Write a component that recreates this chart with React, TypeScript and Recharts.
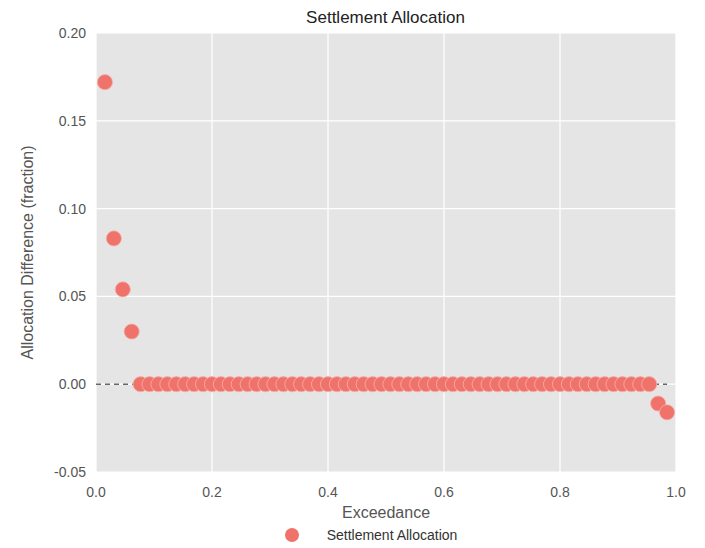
import React from "react"
import {
  ScatterChart,
  Scatter,
  XAxis,
  YAxis,
  CartesianGrid,
  Legend,
  Label,
} from "recharts"

// exceedance positions of each allocation point
const exceedance = [
  0.0154, 0.0308, 0.0462, 0.0615, 0.0769, 0.0923, 0.1077, 0.1231, 0.1385, 0.1538,
  0.1692, 0.1846, 0.2, 0.2154, 0.2308, 0.2462, 0.2615, 0.2769, 0.2923, 0.3077,
  0.3231, 0.3385, 0.3538, 0.3692, 0.3846, 0.4, 0.4154, 0.4308, 0.4462, 0.4615,
  0.4769, 0.4923, 0.5077, 0.5231, 0.5385, 0.5538, 0.5692, 0.5846, 0.6, 0.6154,
  0.6308, 0.6462, 0.6615, 0.6769, 0.6923, 0.7077, 0.7231, 0.7385, 0.7538, 0.7692,
  0.7846, 0.8, 0.8154, 0.8308, 0.8462, 0.8615, 0.8769, 0.8923, 0.9077, 0.9231,
  0.9385, 0.9538, 0.9692, 0.9846,
]

const allocationDiff = [
  0.172, 0.083, 0.054, 0.03, 0, 0, 0, 0, 0, 0,
  0, 0, 0, 0, 0, 0, 0, 0, 0, 0,
  0, 0, 0, 0, 0, 0, 0, 0, 0, 0,
  0, 0, 0, 0, 0, 0, 0, 0, 0, 0,
  0, 0, 0, 0, 0, 0, 0, 0, 0, 0,
  0, 0, 0, 0, 0, 0, 0, 0, 0, 0,
  0, 0, -0.011, -0.016,
]

const xTicks = [0, 0.2, 0.4, 0.6, 0.8, 1.0]
const yTicks = [-0.05, 0, 0.05, 0.1, 0.15, 0.2]

// dashed zero reference, from the axis to the last point
const zeroLine = [
  { x: 0, y: 0 },
  { x: 0.9846, y: 0 },
]

const points = exceedance.map((x, i) => ({ x, y: allocationDiff[i] }))

const FONT = "'Liberation Sans', Arial, sans-serif"
const DOT = "#EF726B"

function Dot(props: any) {
  const { cx, cy } = props
  if (cx == null || cy == null) return null
  return <circle cx={cx} cy={cy} r={7.6} fill={DOT} stroke="#f5b3ae" strokeWidth={0.8} />
}

function LegendBox() {
  return (
    <div style={{ display: "flex", alignItems: "center", justifyContent: "center", fontFamily: FONT, fontSize: 14, color: "#333" }}>
      <svg width={16} height={16} style={{ marginRight: 27 }}>
        <circle cx={8} cy={8} r={7} fill={DOT} />
      </svg>
      <span>Settlement Allocation</span>
    </div>
  )
}

export default function App() {
  return (
    <div style={{ position: "absolute", left: 0, top: 0, width: 705, height: 548, background: "#fff" }}>
      <div style={{ position: "absolute", left: 0, top: 8, width: 705, textAlign: "center", paddingLeft: 66, boxSizing: "border-box", fontFamily: FONT, fontSize: 17, color: "#222" }}>
        Settlement Allocation
      </div>
      <ScatterChart width={705} height={548} margin={{ top: 33, right: 29, left: 36, bottom: 30 }}>
        <CartesianGrid fill="#E5E5E5" stroke="#ffffff" strokeWidth={1.2} />
        <XAxis
          type="number"
          dataKey="x"
          domain={[0, 1]}
          ticks={xTicks}
          tickFormatter={(v) => v.toFixed(1)}
          tickLine={false}
          axisLine={false}
          height={30}
          tick={{ fontSize: 14, fill: "#555", fontFamily: FONT, dy: 7 }}
        >
          <Label value="Exceedance" position="insideBottom" offset={-16} style={{ fontSize: 16, fill: "#555", fontFamily: FONT }} />
        </XAxis>
        <YAxis
          type="number"
          dataKey="y"
          domain={[-0.05, 0.2]}
          ticks={yTicks}
          tickFormatter={(v) => v.toFixed(2)}
          tickLine={false}
          axisLine={false}
          width={60}
          tick={{ fontSize: 14, fill: "#555", fontFamily: FONT, dx: -2 }}
        >
          <Label value="Allocation Difference (fraction)" angle={-90} position="insideLeft" offset={-9} style={{ fontSize: 16, fill: "#555", fontFamily: FONT, textAnchor: "middle" }} />
        </YAxis>
        <Legend
          verticalAlign="bottom"
          wrapperStyle={{ position: "absolute", left: 18, top: 527, width: 705 }}
          content={() => <LegendBox />}
        />
        <Scatter
          data={zeroLine}
          line={{ stroke: "#666", strokeWidth: 1.5, strokeDasharray: "5 4" }}
          shape={() => null}
          legendType="none"
          isAnimationActive={false}
        />
        <Scatter name="Settlement Allocation" data={points} shape={Dot} isAnimationActive={false} />
      </ScatterChart>
    </div>
  )
}
